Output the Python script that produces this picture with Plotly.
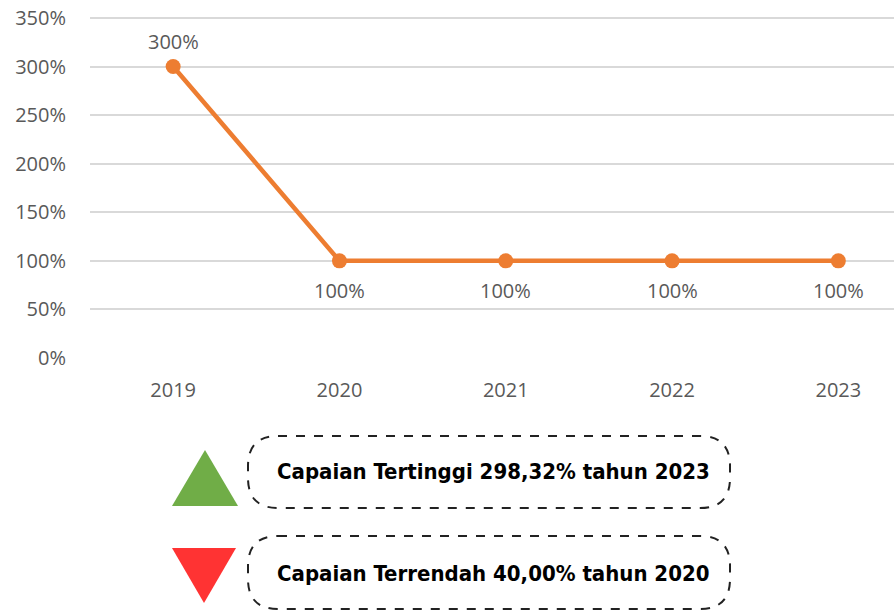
import plotly.graph_objects as go

years = ["2019", "2020", "2021", "2022", "2023"]
capaian = [3.0, 1.0, 1.0, 1.0, 1.0]
label_shift = [25, -30, -30, -30, -30]
y_ticks = [0, 0.5, 1.0, 1.5, 2.0, 2.5, 3.0, 3.5]

teks_tertinggi = "Capaian Tertinggi 298,32% tahun 2023"
teks_terendah = "Capaian Terrendah 40,00% tahun 2020"

W, H = 894, 612
L, R, T, B = 90, 894, 15, 358
_ORANGE = "#ED7D31"
_GREY = "#595959"
_TICK_FONT = {"family": "Open Sans", "size": 20, "color": _GREY}
_BOX_FONT = {"family": "Liberation Sans Narrow, DejaVu Sans Condensed, DejaVu Sans",
             "size": 22, "color": "black"}


def px(x):
    # pixel -> paper x
    return (x - L) / (R - L)


def py(y):
    # pixel -> paper y
    return (B - y) / (B - T)


def rounded_box(x0, y0, x1, y1, r):
    pts = [
        f"M {px(x0 + r)},{py(y0)}",
        f"L {px(x1 - r)},{py(y0)}",
        f"Q {px(x1)},{py(y0)} {px(x1)},{py(y0 + r)}",
        f"L {px(x1)},{py(y1 - r)}",
        f"Q {px(x1)},{py(y1)} {px(x1 - r)},{py(y1)}",
        f"L {px(x0 + r)},{py(y1)}",
        f"Q {px(x0)},{py(y1)} {px(x0)},{py(y1 - r)}",
        f"L {px(x0)},{py(y0 + r)}",
        f"Q {px(x0)},{py(y0)} {px(x0 + r)},{py(y0)} Z",
    ]
    return " ".join(pts)


def triangle(x0, y0, x1, y1, up=True):
    xm = (x0 + x1) / 2
    if up:
        return f"M {px(x0)},{py(y1)} L {px(x1)},{py(y1)} L {px(xm)},{py(y0)} Z"
    return f"M {px(x0)},{py(y0)} L {px(x1)},{py(y0)} L {px(xm)},{py(y1)} Z"


fig = go.Figure()
fig.add_trace(
    go.Scatter(
        x=years,
        y=capaian,
        mode="lines+markers",
        line={"color": _ORANGE, "width": 4.5},
        marker={"color": _ORANGE, "size": 15},
        cliponaxis=False,
        showlegend=False,
    )
)

# data labels (category index, since year strings look numeric)
labels = [
    {"x": i, "y": v, "xref": "x", "yref": "y", "text": f"{v:.0%}",
     "yshift": s, "showarrow": False,
     "font": {"family": "Open Sans", "size": 20, "color": _GREY}}
    for i, (v, s) in enumerate(zip(capaian, label_shift))
]

box_line = {"color": "#222222", "width": 2, "dash": "dash"}
fig.update_layout(
    width=W,
    height=H,
    plot_bgcolor="white",
    paper_bgcolor="white",
    margin={"l": L, "r": W - R, "t": T, "b": H - B},
    xaxis={
        "type": "category",
        "range": [-0.5, -0.5 + (R - L) / 166.3],
        "showgrid": False,
        "zeroline": False,
        "showline": False,
        "ticks": "",
        "automargin": False,
        "ticklabelstandoff": 18,
        "tickfont": _TICK_FONT,
    },
    yaxis={
        "range": [0, 3.53],
        "tickvals": y_ticks,
        "tickformat": ".0%",
        "showgrid": True,
        "gridcolor": "#D9D9D9",
        "gridwidth": 2,
        "zeroline": False,
        "showline": False,
        "ticks": "",
        "automargin": False,
        "ticklabelstandoff": 23,
        "ticklabeloverflow": "allow",
        "tickfont": _TICK_FONT,
    },
    shapes=[
        {"type": "path", "xref": "paper", "yref": "paper",
         "path": triangle(172, 450, 238, 506, up=True),
         "fillcolor": "#70AD47", "line": {"width": 0}},
        {"type": "path", "xref": "paper", "yref": "paper",
         "path": triangle(172, 548, 236, 603, up=False),
         "fillcolor": "#FF3333", "line": {"width": 0}},
        {"type": "path", "xref": "paper", "yref": "paper",
         "path": rounded_box(248, 436, 730, 508, 30),
         "line": box_line, "fillcolor": "rgba(0,0,0,0)"},
        {"type": "path", "xref": "paper", "yref": "paper",
         "path": rounded_box(248, 536, 730, 609, 30),
         "line": box_line, "fillcolor": "rgba(0,0,0,0)"},
    ],
    annotations=labels + [
        {"text": f"<b>{teks_tertinggi}</b>", "xref": "paper", "yref": "paper",
         "x": px(493), "y": py(471), "xanchor": "center", "yanchor": "middle",
         "showarrow": False, "font": _BOX_FONT},
        {"text": f"<b>{teks_terendah}</b>", "xref": "paper", "yref": "paper",
         "x": px(493), "y": py(573), "xanchor": "center", "yanchor": "middle",
         "showarrow": False, "font": _BOX_FONT},
    ],
)

fig.write_html(
    "out.html",
    config={"displayModeBar": False},
    post_script="document.body.style.margin = '0';",
)
